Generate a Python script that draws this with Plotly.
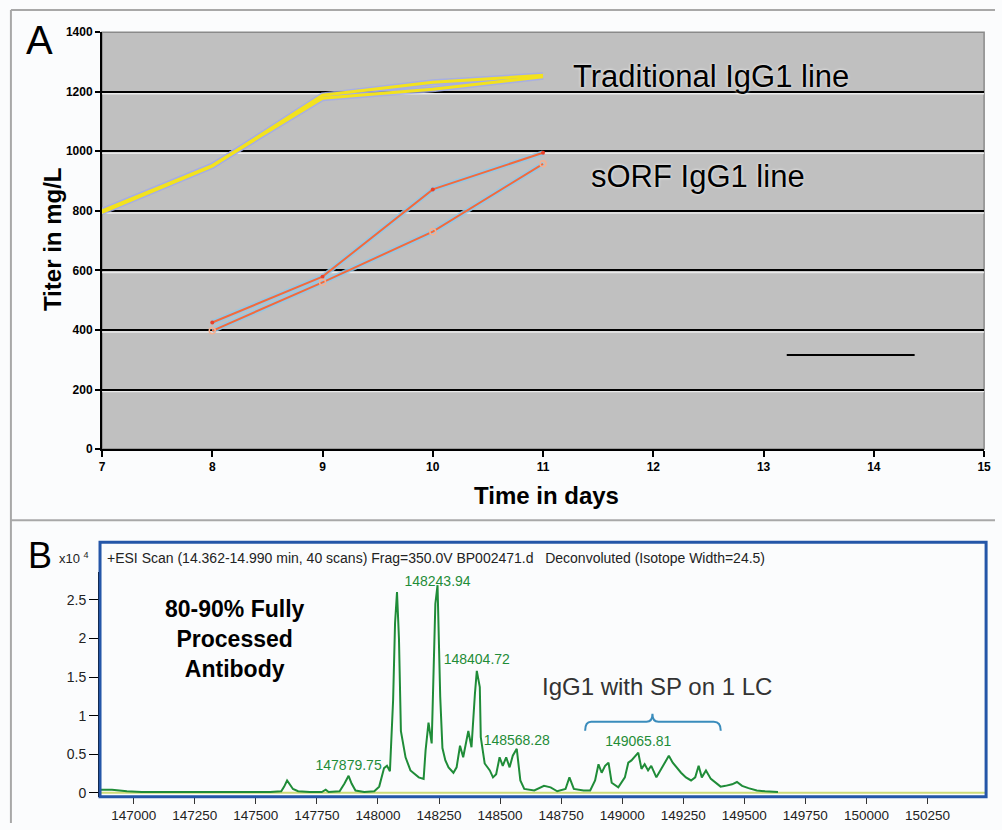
import plotly.graph_objects as go

W, H = 1002, 830
# measured render mapping (rendered = offset + scale * design); inverted for vertical placement
OFF_X, SC_X = 0.0, 1.0
OFF_Y, SC_Y = 7.9, 0.981


def px(x):
    return ((x - OFF_X) / SC_X) / W


def py(y):
    return 1 - ((y - OFF_Y) / SC_Y) / H


# ---------------- Panel A data ----------------
days = [7, 8, 9, 10, 11]
trad_a = [795, 950, 1188, 1232, 1255]
trad_b = [800, 952, 1178, 1208, 1250]
sorf_days = [8, 9, 10, 11]
sorf_a = [425, 579, 872, 995]
sorf_b = [397, 560, 730, 958]
stray_line_x = [13.21, 14.37]
stray_line_y = [316, 316]
a_xticks = [7, 8, 9, 10, 11, 12, 13, 14, 15]
a_yticks = [0, 200, 400, 600, 800, 1000, 1200, 1400]

# ---------------- Panel B data ----------------
spec_mass = [146862, 146911, 146972, 147032, 147276, 147559, 147604, 147616, 147628, 147640,
             147652, 147673, 147721, 147770, 147786, 147798, 147843, 147863, 147879.75, 147892,
             147908, 147944, 147985, 148005, 148025, 148037, 148049, 148062, 148070, 148078,
             148086, 148094, 148113, 148133, 148167, 148187, 148195, 148207, 148220, 148235,
             148243.94, 148255, 148264, 148276, 148289, 148309, 148322, 148336, 148349, 148370,
             148383, 148397, 148404.72, 148417, 148421, 148437, 148458, 148471, 148484, 148498,
             148511, 148525, 148539, 148552, 148568.28, 148583, 148599, 148640, 148680, 148707,
             148734, 148768, 148784, 148802, 148842, 148869, 148889, 148903, 148916, 148930,
             148944, 148957, 148984, 149011, 149025, 149038, 149065.81, 149079, 149092, 149106,
             149119, 149140, 149160, 149173, 149191, 149207, 149221, 149241, 149261, 149282,
             149299, 149313, 149326, 149343, 149363, 149383, 149403, 149423, 149450, 149470,
             149491, 149517, 149551, 149585, 149638]
spec_int = [0.04, 0.04, 0.02, 0.01, 0.01, 0.01, 0.02, 0.08, 0.16, 0.10,
            0.05, 0.02, 0.01, 0.01, 0.04, 0.01, 0.02, 0.12, 0.22, 0.12,
            0.03, 0.01, 0.02, 0.08, 0.32, 0.35, 0.28, 1.20, 2.20, 2.60,
            2.00, 0.80, 0.46, 0.29, 0.20, 0.18, 0.55, 0.91, 0.64, 2.45,
            2.69, 1.24, 0.58, 0.42, 0.33, 0.26, 0.33, 0.61, 0.46, 0.80,
            0.59, 1.28, 1.58, 1.37, 0.72, 0.38, 0.29, 0.20, 0.24, 0.46,
            0.35, 0.46, 0.33, 0.48, 0.57, 0.16, 0.05, 0.03, 0.09, 0.07,
            0.02, 0.05, 0.20, 0.05, 0.03, 0.03, 0.16, 0.37, 0.26, 0.35,
            0.39, 0.13, 0.07, 0.20, 0.39, 0.42, 0.52, 0.31, 0.37, 0.29,
            0.35, 0.20, 0.31, 0.37, 0.48, 0.39, 0.33, 0.26, 0.20, 0.16,
            0.20, 0.35, 0.20, 0.29, 0.18, 0.13, 0.08, 0.09, 0.11, 0.14,
            0.09, 0.06, 0.03, 0.02, 0.01]
baseline_mass = [146862, 150490]
baseline_int = [0.0, 0.0]
peak_labels = ["147879.75", "148243.94", "148404.72", "148568.28", "149065.81"]
peak_label_mass = [147879.75, 148243.94, 148404.72, 148568.28, 149065.81]
peak_label_int = [0.34, 2.73, 1.71, 0.66, 0.65]
b_xticks = [147000, 147250, 147500, 147750, 148000, 148250, 148500, 148750,
            149000, 149250, 149500, 149750, 150000, 150250]
b_yticks = [0, 0.5, 1, 1.5, 2, 2.5]
b_yticklabels = ["0", "0.5", "1", "1.5", "2", "2.5"]

ARIAL = "Arial, Liberation Sans, sans-serif"

fig = go.Figure()

for ys in (trad_a, trad_b):
    fig.add_trace(go.Scatter(x=days, y=ys, mode="lines", xaxis="x", yaxis="y",
                             line=dict(color="rgba(160,170,235,0.8)", width=6), hoverinfo="skip"))
for ys in (trad_a, trad_b):
    fig.add_trace(go.Scatter(x=days, y=ys, mode="lines", xaxis="x", yaxis="y",
                             line=dict(color="#f3e21e", width=3)))
for ys in (sorf_a, sorf_b):
    fig.add_trace(go.Scatter(x=sorf_days, y=ys, mode="lines", xaxis="x", yaxis="y",
                             line=dict(color="rgba(140,200,235,0.85)", width=5), hoverinfo="skip"))
fig.add_trace(go.Scatter(x=sorf_days, y=sorf_a, mode="lines+markers", xaxis="x", yaxis="y",
                         line=dict(color="#f26a3c", width=2),
                         marker=dict(symbol="circle", size=4, color="#e8402a")))
fig.add_trace(go.Scatter(x=sorf_days, y=sorf_b, mode="lines+markers", xaxis="x", yaxis="y",
                         line=dict(color="#f26a3c", width=2),
                         marker=dict(symbol="circle-open", size=6, color="#f6b090",
                                     line=dict(width=1.5, color="#f26a3c"))))
fig.add_trace(go.Scatter(x=stray_line_x, y=stray_line_y, mode="lines", xaxis="x", yaxis="y",
                         line=dict(color="black", width=2)))

fig.add_trace(go.Scatter(x=baseline_mass, y=baseline_int, mode="lines", xaxis="x2", yaxis="y2",
                         line=dict(color="#cfdc78", width=2)))
fig.add_trace(go.Scatter(x=spec_mass, y=spec_int, mode="lines", xaxis="x2", yaxis="y2",
                         line=dict(color="#1f8c38", width=2)))
fig.add_trace(go.Scatter(x=peak_label_mass, y=peak_label_int, mode="text", xaxis="x2", yaxis="y2",
                         text=peak_labels, textposition="middle center",
                         textfont=dict(family=ARIAL, size=14, color="#1f8c38")))

shapes = []
shapes.append(dict(type="rect", xref="x domain", yref="y domain", x0=0, x1=1, y0=0, y1=1,
                   fillcolor="#c0c0c0", line=dict(width=1.5, color="#8a8a8a"), layer="below"))
for v in a_yticks[1:-1]:
    shapes.append(dict(type="line", xref="x domain", yref="y", x0=0, x1=1, y0=v - 7, y1=v - 7,
                       line=dict(color="rgba(238,238,238,0.9)", width=1.5), layer="below"))
shapes.append(dict(type="line", xref="paper", yref="paper", x0=px(8), x1=1, y0=py(11), y1=py(11),
                   line=dict(color="#a8a8a8", width=2)))
shapes.append(dict(type="line", xref="paper", yref="paper", x0=px(8), x1=1, y0=py(520), y1=py(520),
                   line=dict(color="#a8a8a8", width=2)))
shapes.append(dict(type="line", xref="paper", yref="paper", x0=px(8), x1=px(8), y0=py(11), y1=0,
                   line=dict(color="#a8a8a8", width=2)))
shapes.append(dict(type="rect", xref="paper", yref="paper", x0=px(98), x1=px(993), y0=py(796), y1=py(542),
                   line=dict(color="#2456a8", width=3)))
bx = [588, 594, 650, 656, 662, 718, 725]
by = [730, 721, 721, 713, 721, 721, 730]
path = (f"M {px(bx[0])},{py(by[0])} Q {px(bx[0])},{py(by[1])} {px(bx[1])},{py(by[1])} "
        f"L {px(bx[2])},{py(by[2])} Q {px(bx[3])},{py(by[2])} {px(bx[3])},{py(by[3])} "
        f"Q {px(bx[3])},{py(by[4])} {px(bx[4])},{py(by[4])} L {px(bx[5])},{py(by[5])} "
        f"Q {px(bx[6])},{py(by[5])} {px(bx[6])},{py(by[6])}")
shapes.append(dict(type="path", xref="paper", yref="paper", path=path,
                   line=dict(color="#3a8cbc", width=2)))

halo = "0px 0px 3px white"


def ann(text, x, y, size, color="black", weight="normal", xanchor="center", angle=0, shadow="none"):
    return dict(text=text, x=px(x), y=py(y), xref="paper", yref="paper", showarrow=False,
                xanchor=xanchor, yanchor="middle", textangle=angle, align="center",
                font=dict(family=ARIAL, size=size, color=color, weight=weight, shadow=shadow))


annotations = [
    ann("A", 37, 41, 40),
    ann("B", 37, 555, 36),
    ann("Titer in mg/L", 50, 240, 24, weight="bold", angle=-90),
    ann("Time in days", 549, 495, 24, weight="bold"),
    ann("Traditional IgG1 line", 715, 77, 31, shadow=halo),
    ann("sORF IgG1 line", 702, 177, 31, shadow=halo),
    ann("x10 <sup>4</sup>", 89, 558, 13, color="#222", xanchor="right"),
    ann("+ESI Scan (14.362-14.990 min, 40 scans) Frag=350.0V BP002471.d   Deconvoluted (Isotope Width=24.5)",
        103, 558, 14, color="#222", xanchor="left"),
    ann("80-90% Fully<br>Processed<br>Antibody", 234, 639, 23, weight="bold"),
    ann("IgG1 with SP on 1 LC", 661, 686, 24, color="#333"),
]

fig.update_layout(
    width=W, height=H, margin=dict(l=0, r=0, t=0, b=0),
    paper_bgcolor="#fbfcfd", plot_bgcolor="rgba(0,0,0,0)",
    showlegend=False,
    xaxis=dict(domain=[px(100), px(991)], range=[7, 15], anchor="y", tickvals=a_xticks,
               ticks="outside", ticklen=6, tickwidth=2, tickcolor="black",
               showline=True, linecolor="black", linewidth=2, showgrid=False, zeroline=False,
               tickfont=dict(family=ARIAL, size=12, color="black", weight="bold")),
    yaxis=dict(domain=[py(449), py(33)], range=[0, 1400], anchor="x", tickvals=a_yticks,
               ticks="outside", ticklen=5, tickwidth=2, tickcolor="black",
               showline=True, linecolor="black", linewidth=2, showgrid=True,
               gridcolor="black", gridwidth=2, zeroline=False,
               tickfont=dict(family=ARIAL, size=12, color="black", weight="bold")),
    xaxis2=dict(domain=[px(98), px(993)], range=[146862, 150490], anchor="y2", tickvals=b_xticks,
                tickformat="d", ticks="outside", ticklen=6, tickwidth=1, tickcolor="#333",
                showline=False, showgrid=False, zeroline=False,
                tickfont=dict(family=ARIAL, size=13.5, color="#222")),
    yaxis2=dict(domain=[py(796), py(572)], range=[-0.052, 2.857], anchor="x2", tickvals=b_yticks,
                ticktext=b_yticklabels, ticks="outside", ticklen=9, tickwidth=1, tickcolor="black",
                showline=True, linecolor="black", linewidth=2, showgrid=False, zeroline=False,
                tickfont=dict(family=ARIAL, size=14, color="#222")),
    shapes=shapes, annotations=annotations,
)

fig.write_html("out.html", config={"displayModeBar": False},
               post_script="document.body.style.margin='0px';document.body.style.overflow='hidden';")
